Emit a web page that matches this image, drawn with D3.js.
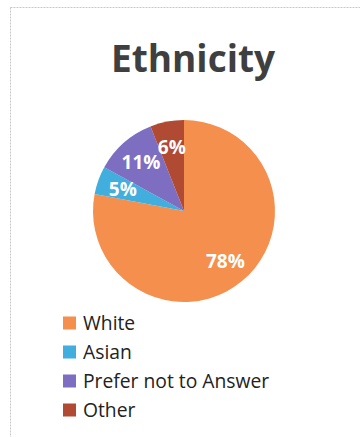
<!DOCTYPE html>
<html>
<head>
<meta charset="utf-8">
<script src="https://cdn.jsdelivr.net/npm/d3@7"></script>
<style>
  body { margin: 0; background: #fff; }
  svg { display: block; font-family: "Open Sans", Lato, sans-serif; }
</style>
</head>
<body>
<div class="chart"></div>
<script>
var categories = ['White', 'Asian', 'Prefer not to Answer', 'Other'];
var values = [78, 5, 11, 6];
var labels = ['78%', '5%', '11%', '6%'];
var colors = ['#F58F4E', '#41AEDE', '#7D6EC1', '#B14A33'];

var fullWidth = 360;
var fullHeight = 437;

var svg = d3.select('.chart').append('svg')
  .attr('width', fullWidth)
  .attr('height', fullHeight);

// faint scanned frame
svg.append('rect')
  .attr('x', 10.5).attr('y', 7.5)
  .attr('width', 362).attr('height', 440)
  .attr('fill', 'none')
  .attr('stroke', '#c8c8c8')
  .attr('stroke-dasharray', '2,1')
  .attr('stroke-width', 1);

svg.append('text')
  .attr('x', 193)
  .attr('y', 72)
  .attr('text-anchor', 'middle')
  .attr('font-size', 37)
  .attr('font-weight', 'bold')
  .attr('fill', '#3f3f3f')
  .text('Ethnicity');

var color = d3.scaleOrdinal().domain(categories).range(colors);

var pie = d3.pie().sort(null).value(function(d) { return d.value; });
var data = categories.map(function(c, i) {
  return { name: c, value: values[i], label: labels[i] };
});
var arcs = pie(data);

var radius = 91;
var arc = d3.arc().innerRadius(0).outerRadius(radius);
var labelArc = d3.arc().innerRadius(65).outerRadius(65);

var pieG = svg.append('g')
  .attr('transform', 'translate(184,211)');

pieG.selectAll('path.slice')
    .data(arcs)
  .enter().append('path')
    .classed('slice', true)
    .attr('d', arc)
    .attr('fill', function(d) { return color(d.data.name); });

pieG.selectAll('text.lbl')
    .data(arcs)
  .enter().append('text')
    .classed('lbl', true)
    .attr('transform', function(d) { return 'translate(' + labelArc.centroid(d) + ')'; })
    .attr('text-anchor', 'middle')
    .attr('dy', '0.35em')
    .attr('font-size', 19)
    .attr('font-weight', 'bold')
    .attr('fill', '#fff')
    .text(function(d) { return d.data.label; });

var legendY = d3.scalePoint()
  .domain(categories)
  .range([323, 410]);

var legend = svg.append('g').classed('legend', true);
var items = legend.selectAll('g.item')
    .data(categories)
  .enter().append('g')
    .classed('item', true)
    .attr('transform', function(d) { return 'translate(63,' + legendY(d) + ')'; });

items.append('rect')
  .attr('x', 0).attr('y', -6.5)
  .attr('width', 13).attr('height', 13)
  .attr('fill', function(d) { return color(d); });

items.append('text')
  .attr('x', 20)
  .attr('dy', '0.35em')
  .attr('font-size', 19.3)
  .attr('fill', '#222')
  .text(function(d) { return d; });
</script>
</body>
</html>
